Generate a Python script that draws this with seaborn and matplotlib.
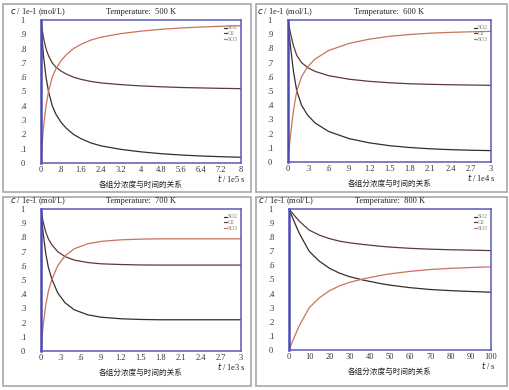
import numpy as np
import pandas as pd
import matplotlib
matplotlib.use("Agg")
import matplotlib.pyplot as plt
import seaborn as sns
from matplotlib.patches import Rectangle

# ---- data (c in units of 1e-1 mol/L) ----
temps = [500, 600, 700, 800]
t_units = ["1e5 s", "1e4 s", "1e3 s", "s"]

t_500 = [0, 0.05, 0.1, 0.2, 0.3, 0.45, 0.6, 0.8, 1.0, 1.3, 1.6, 2.0, 2.4, 3.2, 4.0, 4.8, 5.6, 6.4, 7.2, 8.0]
so3_500 = [0, 0.14, 0.25, 0.40, 0.50, 0.60, 0.66, 0.715, 0.755, 0.80, 0.83, 0.86, 0.88, 0.905, 0.922, 0.935, 0.944, 0.951, 0.956, 0.96]
so2_500 = [1, 0.86, 0.75, 0.60, 0.50, 0.40, 0.34, 0.285, 0.245, 0.20, 0.17, 0.14, 0.12, 0.095, 0.078, 0.065, 0.056, 0.049, 0.044, 0.04]
o2_500 = [1, 0.93, 0.875, 0.80, 0.75, 0.70, 0.67, 0.643, 0.623, 0.60, 0.585, 0.57, 0.56, 0.548, 0.539, 0.533, 0.528, 0.525, 0.522, 0.52]

t_600 = [0, 0.02, 0.04, 0.08, 0.13, 0.2, 0.29, 0.4, 0.6, 0.9, 1.2, 1.5, 1.8, 2.1, 2.4, 2.7, 3.0]
so3_600 = [0, 0.11, 0.2, 0.36, 0.50, 0.60, 0.67, 0.725, 0.785, 0.835, 0.865, 0.885, 0.898, 0.907, 0.913, 0.917, 0.92]
so2_600 = [1, 0.89, 0.8, 0.64, 0.50, 0.40, 0.33, 0.275, 0.215, 0.165, 0.135, 0.115, 0.102, 0.093, 0.087, 0.083, 0.08]
o2_600 = [1, 0.945, 0.9, 0.82, 0.75, 0.70, 0.665, 0.638, 0.608, 0.583, 0.568, 0.558, 0.551, 0.547, 0.544, 0.542, 0.54]

t_700 = [0, 0.015, 0.03, 0.07, 0.11, 0.16, 0.25, 0.36, 0.5, 0.7, 0.9, 1.2, 1.5, 1.8, 2.1, 2.4, 2.7, 3.0]
so3_700 = [0, 0.09, 0.17, 0.32, 0.42, 0.50, 0.60, 0.67, 0.72, 0.755, 0.772, 0.783, 0.788, 0.79, 0.79, 0.79, 0.79, 0.79]
so2_700 = [1, 0.92, 0.84, 0.69, 0.59, 0.51, 0.41, 0.34, 0.29, 0.255, 0.238, 0.227, 0.222, 0.22, 0.22, 0.22, 0.22, 0.22]
o2_700 = [1, 0.955, 0.915, 0.84, 0.79, 0.75, 0.70, 0.665, 0.64, 0.623, 0.614, 0.609, 0.606, 0.605, 0.605, 0.605, 0.605, 0.605]

t_800 = [0, 2, 5, 10, 15, 20, 25, 30, 37, 45, 50, 60, 70, 80, 90, 100]
so3_800 = [0, 0.07, 0.17, 0.30, 0.37, 0.42, 0.455, 0.48, 0.505, 0.528, 0.54, 0.558, 0.571, 0.579, 0.585, 0.59]
so2_800 = [1, 0.93, 0.83, 0.70, 0.63, 0.58, 0.545, 0.52, 0.495, 0.472, 0.46, 0.442, 0.429, 0.421, 0.415, 0.41]
o2_800 = [1, 0.965, 0.915, 0.85, 0.815, 0.79, 0.772, 0.76, 0.748, 0.736, 0.73, 0.721, 0.715, 0.711, 0.708, 0.705]

times = [t_500, t_600, t_700, t_800]
so2 = [so2_500, so2_600, so2_700, so2_800]
o2 = [o2_500, o2_600, o2_700, o2_800]
so3 = [so3_500, so3_600, so3_700, so3_800]

xmax = [8, 3, 3, 100]
xticks = [
    [0, 0.8, 1.6, 2.4, 3.2, 4, 4.8, 5.6, 6.4, 7.2, 8],
    [0, 0.3, 0.6, 0.9, 1.2, 1.5, 1.8, 2.1, 2.4, 2.7, 3],
    [0, 0.3, 0.6, 0.9, 1.2, 1.5, 1.8, 2.1, 2.4, 2.7, 3],
    [0, 10, 20, 30, 40, 50, 60, 70, 80, 90, 100],
]
xticklabels = [
    ["0", ".8", "1.6", "2.4", "3.2", "4", "4.8", "5.6", "6.4", "7.2", "8"],
    ["0", ".3", ".6", ".9", "1.2", "1.5", "1.8", "2.1", "2.4", "2.7", "3"],
    ["0", ".3", ".6", ".9", "1.2", "1.5", "1.8", "2.1", "2.4", "2.7", "3"],
    ["0", "10", "20", "30", "40", "50", "60", "70", "80", "90", "100"],
]
yticks = [0, 0.1, 0.2, 0.3, 0.4, 0.5, 0.6, 0.7, 0.8, 0.9, 1.0]
yticklabels = ["0", ".1", ".2", ".3", ".4", ".5", ".6", ".7", ".8", ".9", "1"]
caption = "各组分浓度与时间的关系"

palette = {"SO2": "#3a2c2c", "O2": "#5e3a36", "SO3": "#c9735c"}

sns.set_style("white")
plt.rcParams["font.family"] = ["Liberation Serif", "Noto Sans CJK SC", "DejaVu Sans"]

fig = plt.figure(figsize=(5.1, 3.9), dpi=100)
W, H = 510.0, 390.0

# panel frames (px) and axes boxes (px): left, top, right, bottom
frames = [(3, 4, 251, 192), (256, 4, 507, 192), (3, 197, 251, 386), (256, 197, 507, 386)]
boxes = [(41, 20, 241, 163), (288, 20, 491, 162), (41, 209, 241, 351), (289, 209, 491, 350)]

for fl, ft, fr, fb in frames:
    fig.patches.append(Rectangle((fl / W, 1 - fb / H), (fr - fl) / W, (fb - ft) / H,
                                 transform=fig.transFigure, fill=False,
                                 edgecolor="#a8a8a8", linewidth=1.2))

for i in range(4):
    l, t, r, b = boxes[i]
    ax = fig.add_axes([l / W, 1 - b / H, (r - l) / W, (b - t) / H])
    df = pd.DataFrame({
        "t": times[i] * 3,
        "c": so2[i] + o2[i] + so3[i],
        "species": ["SO2"] * len(times[i]) + ["O2"] * len(times[i]) + ["SO3"] * len(times[i]),
    })
    sns.lineplot(data=df, x="t", y="c", hue="species", palette=palette, ax=ax,
                 linewidth=0.9, estimator=None, sort=False)
    ax.set_xlim(0, xmax[i])
    ax.set_ylim(0, 1)
    ax.set_xticks(xticks[i])
    ax.set_xticklabels(xticklabels[i])
    ax.set_yticks(yticks)
    ax.set_yticklabels(yticklabels)
    ax.tick_params(axis="both", labelsize=6, colors="#333333", direction="in", length=2, width=0.6)
    ax.tick_params(axis="y", length=0)
    ax.tick_params(axis="x", pad=2)
    for lbl in ax.get_yticklabels():
        lbl.set_horizontalalignment("left")
    ax.yaxis.set_tick_params(pad=15)
    ax.set_xlabel("")
    ax.set_ylabel("")
    for side in ["top", "right", "bottom"]:
        ax.spines[side].set_color("#5a5ab8")
        ax.spines[side].set_linewidth(1.1)
    ax.spines["left"].set_color("#4a4ab0")
    ax.spines["left"].set_linewidth(1.8)

    leg = ax.legend(loc="upper right", bbox_to_anchor=(1.0, 0.985), frameon=False,
                    fontsize=4, handlelength=0.4, handletextpad=0.2,
                    labelspacing=0.15, borderaxespad=0.2)
    for txt in leg.get_texts():
        txt.set_color("#777777")

    cx = (l + r) / 2
    fig.text(cx / W, 1 - (t - 6) / H, "Temperature:  %d K" % temps[i],
             ha="center", va="baseline", fontsize=6, color="#222222")
    fig.text((l - 31) / W, 1 - (t - 6) / H, "$c$ / 1e-1 (mol/L)",
             ha="left", va="baseline", fontsize=6, color="#222222")
    fig.text((r + 5) / W, 1 - (b + 19) / H, "$t$ / " + t_units[i],
             ha="right", va="baseline", fontsize=6, color="#222222")
    fig.text(cx / W, 1 - (b + 24) / H, caption, ha="center", va="baseline",
             fontsize=5.5, color="#222222", family=["Noto Sans CJK SC", "DejaVu Sans"])

fig.savefig("out.png", dpi=100)
